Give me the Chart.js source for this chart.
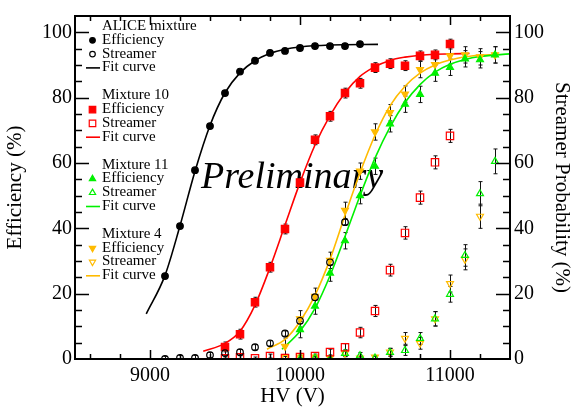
<!DOCTYPE html>
<html>
<head>
<meta charset="utf-8">
<script src="https://cdn.jsdelivr.net/npm/chart.js@4.4.1/dist/chart.umd.min.js"></script>
<style>
  html, body { margin: 0; padding: 0; background: #fff; }
</style>
</head>
<body>
<canvas id="c" width="574" height="409"></canvas>
<script>
// HV scan: efficiency and streamer probability for four gas mixtures

const HV_ALICE = [9100, 9200, 9300, 9400, 9500, 9600, 9700, 9800, 9900, 10000, 10100, 10200, 10300, 10400];
const EFF_ALICE = [25.4, 40.7, 57.8, 71.3, 81.4, 88.0, 91.3, 93.7, 94.3, 95.2, 95.8, 95.8, 95.8, 96.4];
const HV_ALICE_STR = [9100, 9200, 9300, 9400, 9500, 9600, 9700, 9800, 9900, 10000, 10100, 10200, 10300];
const STR_ALICE = [0, 0.3, 0.3, 1.2, 1.8, 2.1, 3.6, 4.8, 7.8, 11.7, 18.9, 29.6, 41.9];
const FIT_ALICE_HV = [8975, 9100, 9200, 9300, 9400, 9500, 9600, 9700, 9800, 9900, 10000, 10200, 10520];
const FIT_ALICE = [13.8, 25.6, 40.8, 57.5, 71.5, 81.5, 87.6, 91.3, 93.5, 94.8, 95.5, 96.1, 96.3];

const HV_M10 = [9500, 9600, 9700, 9800, 9900, 10000, 10100, 10200, 10300, 10400, 10500, 10600, 10700, 10800, 10900, 11000];
const EFF_M10 = [3.7, 7.6, 17.4, 28.1, 39.8, 54.0, 67.1, 74.3, 81.4, 84.4, 89.2, 90.4, 89.8, 92.8, 93.1, 96.4];
const STR_M10 = [0.2, 0.5, 0.2, 0.9, 0.3, 0.6, 0.9, 2.1, 3.6, 8.1, 14.7, 27.2, 38.6, 49.4, 60.2, 68.3];
const ERR_M10_STR = [0.4, 0.5, 0.4, 0.6, 0.5, 0.6, 0.6, 0.9, 1.1, 1.6, 1.7, 1.8, 1.9, 2.0, 2.0, 2.0];
const FIT_M10_HV = [9355, 9500, 9600, 9700, 9800, 9900, 10000, 10100, 10200, 10300, 10400, 10500, 10600, 10700, 10800, 10900, 11000, 11130];
const FIT_M10 = [2.4, 4.8, 8.5, 16.5, 28.0, 41.0, 54.0, 65.5, 74.5, 81.5, 86.5, 89.5, 91.4, 92.4, 93.0, 93.3, 93.4, 93.5];

const HV_M11 = [10000, 10100, 10200, 10300, 10400, 10500, 10600, 10700, 10800, 10900, 11000, 11100, 11200, 11300];
const EFF_M11 = [9.0, 16.2, 26.3, 36.2, 50.0, 59.0, 72.0, 78.0, 81.0, 87.5, 89.3, 91.9, 91.6, 93.1];
const STR_M11 = [0, 0.3, 0, 1.7, 1.0, 0.3, 2.0, 2.6, 6.3, 12.3, 19.8, 31.7, 50.6, 60.5];
const ERR_M11_STR = [0.5, 0.5, 0.5, 1.0, 1.0, 0.5, 1.2, 1.5, 1.8, 2.2, 2.4, 3.3, 3.7, 3.8];
const FIT_M11_HV = [9880, 10000, 10100, 10200, 10300, 10400, 10500, 10600, 10700, 10800, 10900, 11000, 11100, 11200, 11400];
const FIT_M11 = [3.0, 8.5, 15.5, 25.5, 37.5, 50.0, 61.5, 71.0, 78.5, 84.0, 87.8, 90.2, 91.7, 92.6, 93.4];

const HV_M4 = [9900, 10000, 10100, 10200, 10300, 10400, 10500, 10600, 10700, 10800, 10900, 11000, 11100, 11200, 11300];
const EFF_M4 = [3.9, 12.3, 19.2, 30.2, 45.5, 57.5, 69.5, 75.4, 81.1, 88.6, 90.1, 92.8, 93.1, 92.5, 93.1];
const HV_M4_STR = [9900, 10000, 10100, 10200, 10300, 10400, 10500, 10600, 10700, 10800, 10900, 11000, 11100, 11200];
const STR_M4 = [0.5, 0.6, 0.6, 0.3, 1.8, 0.3, 0.6, 2.1, 6.3, 4.8, 12.3, 23.1, 30.5, 43.7];
const ERR_M4_STR = [0.5, 0.5, 0.5, 0.5, 1.0, 0.5, 0.5, 1.2, 1.8, 1.8, 2.2, 2.6, 3.2, 3.7];
const FIT_M4_HV = [9780, 9900, 10000, 10100, 10200, 10300, 10400, 10500, 10600, 10700, 10800, 10900, 11000, 11100, 11200, 11300];
const FIT_M4 = [3.0, 6.0, 11.5, 19.5, 30.5, 44.0, 57.0, 68.5, 77.5, 83.5, 87.5, 90.0, 91.5, 92.5, 93.0, 93.2];

const X_TICKS = [9000, 10000, 11000];
const Y_TICKS = [0, 20, 40, 60, 80, 100];

const RED = '#ff0000';
const GREEN = '#00f000';
const YELLOW = '#ffbb00';
const SERIF = '"Liberation Serif", "Times New Roman", serif';

const pts = (xs, ys) => xs.map((x, i) => ({ x, y: ys[i] }));

function markers(label, xs, ys, color, style, open, extra) {
  return Object.assign({
    type: 'scatter',
    label,
    data: pts(xs, ys),
    pointStyle: style,
    pointRadius: style === 'rect' ? 5.2 : (style === 'circle' ? 3.3 : 4),
    pointRotation: 0,
    pointBackgroundColor: open ? 'rgba(0,0,0,0)' : color,
    pointBorderColor: color,
    pointBorderWidth: 1.2,
    order: 1,
  }, extra || {});
}

function fitLine(label, xs, ys, color) {
  return {
    type: 'line',
    label,
    data: pts(xs, ys),
    borderColor: color,
    borderWidth: 1.6,
    pointRadius: 0,
    cubicInterpolationMode: 'monotone',
    fill: false,
    order: 2,
  };
}

const datasets = [
  fitLine('ALICE fit', FIT_ALICE_HV, FIT_ALICE, '#000'),
  fitLine('Mixture 10 fit', FIT_M10_HV, FIT_M10, RED),
  fitLine('Mixture 11 fit', FIT_M11_HV, FIT_M11, GREEN),
  fitLine('Mixture 4 fit', FIT_M4_HV, FIT_M4, YELLOW),
  markers('ALICE eff', HV_ALICE, EFF_ALICE, '#000', 'circle', false),
  markers('ALICE streamer', HV_ALICE_STR, STR_ALICE, '#000', 'circle', true, { yAxisID: 'y2', errorBar: 0.8 }),
  markers('Mixture 10 eff', HV_M10, EFF_M10, RED, 'rect', false, { errorBar: 1.5 }),
  markers('Mixture 10 streamer', HV_M10, STR_M10, RED, 'rect', true, { yAxisID: 'y2', errorBar: ERR_M10_STR }),
  markers('Mixture 11 eff', HV_M11, EFF_M11, GREEN, 'triangle', false, { errorBar: 2.5 }),
  markers('Mixture 11 streamer', HV_M11, STR_M11, GREEN, 'triangle', true, { yAxisID: 'y2', errorBar: ERR_M11_STR }),
  markers('Mixture 4 eff', HV_M4, EFF_M4, YELLOW, 'triangle', false, { errorBar: 2.5, pointRotation: 180 }),
  markers('Mixture 4 streamer', HV_M4_STR, STR_M4, YELLOW, 'triangle', true, { yAxisID: 'y2', errorBar: ERR_M4_STR, pointRotation: 180 }),
];

// black vertical error bars with small caps, under the markers
const errorBars = {
  id: 'errorBars',
  beforeDatasetsDraw(chart) {
    const { ctx, chartArea: a } = chart;
    ctx.save();
    ctx.beginPath();
    ctx.rect(a.left, a.top, a.right - a.left, a.bottom - a.top);
    ctx.clip();
    ctx.strokeStyle = '#111';
    ctx.lineWidth = 1;
    chart.data.datasets.forEach(ds => {
      if (!ds.errorBar) return;
      const ys = chart.scales[ds.yAxisID || 'y'];
      ds.data.forEach((p, j) => {
        const e = Array.isArray(ds.errorBar) ? ds.errorBar[j] : ds.errorBar;
        const px = Math.round(chart.scales.x.getPixelForValue(p.x)) + 0.5;
        const top = ys.getPixelForValue(p.y + e);
        const bot = ys.getPixelForValue(p.y - e);
        ctx.beginPath();
        ctx.moveTo(px, top); ctx.lineTo(px, bot);
        ctx.moveTo(px - 2, top); ctx.lineTo(px + 2, top);
        ctx.moveTo(px - 2, bot); ctx.lineTo(px + 2, bot);
        ctx.stroke();
      });
    });
    ctx.restore();
  }
};

// plot frame with inward ticks on all four sides
const frameTicks = {
  id: 'frameTicks',
  afterDraw(chart) {
    const { ctx, chartArea: a, scales: { x, y } } = chart;
    ctx.save();
    ctx.strokeStyle = '#000';
    ctx.lineWidth = 1.5;
    ctx.beginPath();
    for (let v = 8600; v < 11400; v += 200) {
      const px = Math.round(x.getPixelForValue(v)) + 0.5;
      const len = v % 1000 === 0 ? 9 : 5;
      ctx.moveTo(px, a.bottom); ctx.lineTo(px, a.bottom - len);
      ctx.moveTo(px, a.top); ctx.lineTo(px, a.top + len);
    }
    for (let v = 5; v < 105; v += 5) {
      const py = Math.round(y.getPixelForValue(v)) + 0.5;
      const len = v % 20 === 0 ? 14 : 7;
      ctx.moveTo(a.left, py); ctx.lineTo(a.left + len, py);
      ctx.moveTo(a.right, py); ctx.lineTo(a.right - len, py);
    }
    ctx.stroke();
    ctx.lineWidth = 2;
    ctx.strokeRect(a.left, a.top, a.right - a.left, a.bottom - a.top);
    ctx.restore();
  }
};

const LEGEND_GROUPS = [
  { title: 'ALICE mixture', color: '#000', style: 'circle', rot: 0 },
  { title: 'Mixture 10', color: RED, style: 'rect', rot: 0 },
  { title: 'Mixture 11', color: GREEN, style: 'triangle', rot: 0 },
  { title: 'Mixture 4', color: YELLOW, style: 'triangle', rot: 180 },
];

// grouped legend in the upper-left corner
const groupLegend = {
  id: 'groupLegend',
  afterDraw(chart) {
    const ctx = chart.ctx;
    ctx.save();
    ctx.font = '15px ' + SERIF;
    ctx.textBaseline = 'middle';
    LEGEND_GROUPS.forEach((g, i) => {
      const y0 = 26 + i * 69.3;
      const tx = 102, mx = 92.5;
      ctx.fillStyle = '#000';
      ctx.fillText(g.title, tx, y0);
      ctx.fillText('Efficiency', tx, y0 + 13.8);
      ctx.fillText('Streamer', tx, y0 + 27.6);
      ctx.fillText('Fit curve', tx, y0 + 41.4);
      const r = g.style === 'rect' ? 4.6 : (g.style === 'circle' ? 2.8 : 3.6);
      ctx.lineWidth = 1.2;
      ctx.strokeStyle = g.color;
      ctx.fillStyle = g.color;
      Chart.helpers.drawPoint(ctx, { pointStyle: g.style, radius: r, rotation: g.rot, borderWidth: 1.2 }, mx, y0 + 14.3);
      ctx.fillStyle = 'rgba(0,0,0,0)';
      Chart.helpers.drawPoint(ctx, { pointStyle: g.style, radius: r, rotation: g.rot, borderWidth: 1.2 }, mx, y0 + 28.1);
      ctx.lineWidth = 1.6;
      ctx.beginPath();
      ctx.moveTo(86, y0 + 41.9); ctx.lineTo(100, y0 + 41.9);
      ctx.stroke();
    });
    ctx.restore();
  }
};

const watermark = {
  id: 'watermark',
  beforeDatasetsDraw(chart) {
    const ctx = chart.ctx;
    ctx.save();
    ctx.font = 'italic 38px ' + SERIF;
    ctx.fillStyle = '#000';
    ctx.textBaseline = 'alphabetic';
    ctx.fillText('Preliminary', 201, 188);
    ctx.restore();
  }
};

const tickFont = { family: SERIF, size: 20 };
const titleFont = { family: SERIF, size: 21 };

function yAxis(position, title, width, pad) {
  return {
    type: 'linear',
    position,
    min: 0,
    max: 105,
    afterBuildTicks: s => { s.ticks = Y_TICKS.map(v => ({ value: v })); },
    afterFit: s => { s.width = width; },
    grid: { display: false, drawTicks: false },
    border: { display: false },
    ticks: { font: tickFont, color: '#000', padding: pad, callback: v => String(v) },
    title: { display: true, text: title, font: titleFont, color: '#000', padding: { top: position === 'left' ? 3 : 0, bottom: 0 } },
  };
}

new Chart(document.getElementById('c'), {
  type: 'scatter',
  data: { datasets },
  options: {
    responsive: false,
    animation: false,
    layout: { padding: { top: 8, left: 0, right: 0, bottom: 0 } },
    plugins: { legend: { display: false }, tooltip: { enabled: false } },
    scales: {
      x: {
        type: 'linear',
        min: 8500,
        max: 11400,
        afterBuildTicks: s => { s.ticks = X_TICKS.map(v => ({ value: v })); },
        afterFit: s => { s.height = 50; },
        grid: { display: false, drawTicks: false },
        border: { display: false },
        ticks: { font: tickFont, color: '#000', padding: 5, maxRotation: 0, callback: v => String(v) },
        title: { display: true, text: 'HV (V)', font: titleFont, color: '#000', padding: { top: 0, bottom: 0 } },
      },
      y: yAxis('left', 'Efficiency (%)', 75, 3),
      y2: yAxis('right', 'Streamer Probability (%)', 64, 4),
    },
  },
  plugins: [errorBars, watermark, frameTicks, groupLegend],
});
</script>
</body>
</html>
